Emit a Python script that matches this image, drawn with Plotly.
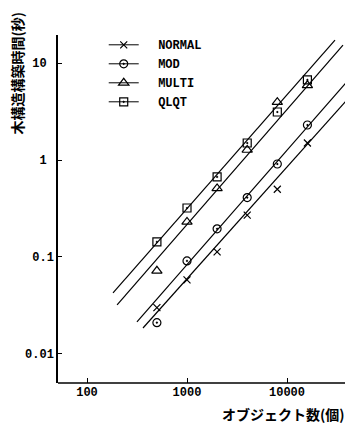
import plotly.graph_objects as go

# ---- data ----
n_objects = [500, 1000, 2000, 4000, 8000, 16000]
normal = [0.030, 0.058, 0.113, 0.27, 0.50, 1.50]
mod = [0.021, 0.091, 0.195, 0.41, 0.91, 2.30]
multi = [0.072, 0.23, 0.51, 1.27, 3.96, 5.9]
qlqt = [0.143, 0.32, 0.67, 1.50, 3.13, 6.7]

# fitted straight lines (end points)
normal_fit_x = [363, 45700]
normal_fit_y = [0.0185, 4.9]
mod_fit_x = [316, 42700]
mod_fit_y = [0.0214, 7.0]
multi_fit_x = [200, 36300]
multi_fit_y = [0.032, 15.3]
qlqt_fit_x = [182, 30200]
qlqt_fit_y = [0.0426, 17.3]

series_names = ["NORMAL", "MOD", "MULTI", "QLQT"]
x_tick_vals = [100, 1000, 10000]
x_tick_text = ["100", "1000", "10000"]
y_tick_vals = [0.01, 0.1, 1, 10]
y_tick_text = ["0.01", "0.1", "1\u00a0", "10\u00a0"]
y_title = "木構造構築時間(秒)"
x_title = "オブジェクト数(個)"

series = [
    (series_names[0], normal, normal_fit_x, normal_fit_y, "x-thin-open", 7),
    (series_names[1], mod, mod_fit_x, mod_fit_y, "circle-open-dot", 8),
    (series_names[2], multi, multi_fit_x, multi_fit_y, "triangle-up-open", 9),
    (series_names[3], qlqt, qlqt_fit_x, qlqt_fit_y, "square-open-dot", 8),
]

mono = "Liberation Mono"
jp = "Noto Sans CJK JP"

fig = go.Figure()
for name, vals, fx, fy, sym, sz in series:
    mk = dict(symbol=sym, size=sz, color="black", line=dict(color="black", width=1.2))
    # fitted line
    fig.add_trace(go.Scatter(x=fx, y=fy, mode="lines", line=dict(color="black", width=1.2),
                             showlegend=False, hoverinfo="skip"))
    # measured points
    fig.add_trace(go.Scatter(x=n_objects, y=vals, mode="markers", marker=mk,
                             showlegend=False, name=name))
    # legend entry
    fig.add_trace(go.Scatter(x=[None], y=[None], mode="lines+markers", marker=mk,
                             line=dict(color="black", width=1),
                             name="\u00a0\u00a0" + name, showlegend=True))

# the page body has an 8px margin, so the figure is 8px smaller each way
fig.update_layout(
    width=345, height=420,
    margin=dict(l=50, r=0, t=27, b=45),
    paper_bgcolor="white", plot_bgcolor="white",
    font=dict(family=mono, size=12, color="black"),
    showlegend=True,
    legend=dict(x=0.155, y=1.0135, xanchor="left", yanchor="top",
                bgcolor="rgba(0,0,0,0)", borderwidth=0,
                font=dict(family=mono, size=12, color="black", weight="bold"),
                itemwidth=30, tracegroupgap=0),
    xaxis=dict(type="log", range=[1.71, 4.66], showgrid=False, zeroline=False,
               showline=False, tickvals=x_tick_vals, ticktext=x_tick_text,
               ticks="inside", ticklen=5, tickcolor="black", tickwidth=1,
               tickfont=dict(family=mono, size=12, color="black", weight="bold")),
    yaxis=dict(type="log", range=[-2.30, 1.29], showgrid=False, zeroline=False,
               showline=True, linecolor="black", linewidth=1.5,
               tickvals=y_tick_vals, ticktext=y_tick_text,
               ticks="inside", ticklen=4, tickcolor="black", tickwidth=1,
               tickfont=dict(family=mono, size=12, color="black", weight="bold")),
    shapes=[dict(type="line", xref="paper", yref="paper", x0=0, x1=0.973, y0=0, y1=0,
                 line=dict(color="black", width=1.5))],
    annotations=[
        dict(text=y_title, xref="paper", yref="paper", x=-0.139, y=0.892,
             xanchor="center", yanchor="middle", textangle=-90, showarrow=False,
             font=dict(family=jp, size=14, color="black", weight="bold")),
        dict(text=x_title, xref="paper", yref="paper", x=0.98, y=-0.089,
             xanchor="right", yanchor="middle", showarrow=False,
             font=dict(family=jp, size=14, color="black", weight="bold")),
    ],
)

fig.write_html("out.html")
